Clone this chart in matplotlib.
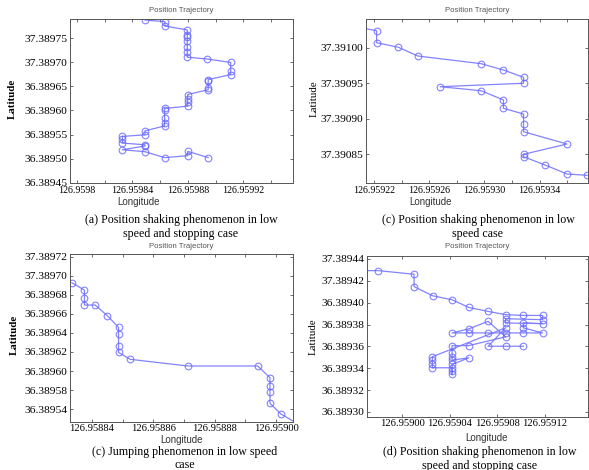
import matplotlib
matplotlib.use("Agg")
import matplotlib.pyplot as plt

W, H = 589, 470

# ---------------- data ----------------
# (a) position shaking, low speed and stopping
a_lon = [126.9598490, 126.9598634, 126.9598634, 126.9598795, 126.9598795, 126.9598795,
         126.9598795, 126.9598795, 126.9598795, 126.9598795, 126.9598939, 126.9599108,
         126.9599108, 126.9599108, 126.9598946, 126.9598946, 126.9598946, 126.9598946,
         126.9598798, 126.9598798, 126.9598798, 126.9598798, 126.9598632, 126.9598632,
         126.9598632, 126.9598632, 126.9598632, 126.9598490, 126.9598490, 126.9598327,
         126.9598327, 126.9598327, 126.9598490, 126.9598490, 126.9598327, 126.9598490,
         126.9598632, 126.9598798, 126.9598798, 126.9598946]
a_lat = [36.3897875, 36.3897840, 36.3897750, 36.3897670, 36.3897565, 36.3897520,
         36.3897430, 36.3897325, 36.3897220, 36.3897105, 36.3897066, 36.3896996,
         36.3896825, 36.3896743, 36.3896640, 36.3896620, 36.3896470, 36.3896430,
         36.3896330, 36.3896240, 36.3896170, 36.3896090, 36.3896040, 36.3896010,
         36.3895852, 36.3895749, 36.3895679, 36.3895576, 36.3895494, 36.3895461,
         36.3895405, 36.3895323, 36.3895288, 36.3895261, 36.3895185, 36.3895144,
         36.3895021, 36.3895062, 36.3895152, 36.3895021]
a_xticks = [126.95980, 126.95982, 126.95984, 126.95986, 126.95988, 126.95990, 126.95992, 126.95994]
a_xticklabels = ['126.9598', '', '126.95984', '', '126.95988', '', '126.95992', '']
a_yticks = [36.38945, 36.38950, 36.38955, 36.38960, 36.38965, 36.38970, 36.38975]
a_yticklabels = ['36.38945', '36.38950', '36.38955', '36.38960', '36.38965', '37.38970', '37.38975']

# (c) position shaking, low speed
b_lon = [126.9592096, 126.9592217, 126.9592217, 126.9592375, 126.9592516, 126.9592976,
         126.9593138, 126.9593284, 126.9593284, 126.9592678, 126.9592976, 126.9593138,
         126.9593138, 126.9593284, 126.9593284, 126.9593284, 126.9593599, 126.9593284,
         126.9593284, 126.9593441, 126.9593599, 126.9593745]
b_lat = [37.3910285, 37.3910240, 37.3910071, 37.3910007, 37.3909884, 37.3909776,
         37.3909687, 37.3909584, 37.3909500, 37.3909452, 37.3909395, 37.3909265,
         37.3909148, 37.3909067, 37.3908922, 37.3908818, 37.3908645, 37.3908500,
         37.3908466, 37.3908349, 37.3908223, 37.3908204]
b_xticks = [126.95922, 126.95924, 126.95926, 126.95928, 126.95930, 126.95932, 126.95934, 126.95936]
b_xticklabels = ['126.95922', '', '126.95926', '', '126.95930', '', '126.95934', '']
b_yticks = [37.39085, 37.39090, 37.39095, 37.39100]
b_yticklabels = ['37.39085', '37.39090', '37.39095', '37.39100']

# (c) jumping, low speed
c_lon = [126.9588335, 126.9588376, 126.9588376, 126.9588376, 126.9588411, 126.9588451,
         126.9588487, 126.9588487, 126.9588487, 126.9588487, 126.9588525, 126.9588712,
         126.9588940, 126.9588980, 126.9588980, 126.9588980, 126.9588980, 126.9589016,
         126.9589090]
c_lat = [36.3896927, 36.3896850, 36.3896770, 36.3896693, 36.3896693, 36.3896580,
         36.3896459, 36.3896389, 36.3896263, 36.3896196, 36.3896123, 36.3896053,
         36.3896053, 36.3895930, 36.3895846, 36.3895776, 36.3895661, 36.3895548,
         36.3895410]
c_xticks = [126.95884, 126.95885, 126.95886, 126.95887, 126.95888, 126.95889, 126.95890]
c_xticklabels = ['126.95884', '', '126.95886', '', '126.95888', '', '126.95900']
c_yticks = [36.38956, 36.38958, 36.38960, 36.38962, 36.38964, 36.38966, 36.38968, 36.38970, 36.38972]
c_yticklabels = ['36.38954', '36.38958', '36.38960', '36.38962', '36.38964', '36.38966',
                 '36.38968', '37.38970', '37.38972']

# (d) position shaking, low speed and stopping
d_lon = [126.9589637, 126.9589799, 126.9590099, 126.9590099, 126.9590255, 126.9590421,
         126.9590560, 126.9590722, 126.9590869, 126.9591019, 126.9591181, 126.9591181,
         126.9590869, 126.9590869, 126.9591181, 126.9591019, 126.9591019, 126.9591181,
         126.9591019, 126.9590869, 126.9590722, 126.9590560, 126.9590419, 126.9590560,
         126.9590722, 126.9590869, 126.9590560, 126.9590419, 126.9590419, 126.9590419,
         126.9590419, 126.9590560, 126.9590419, 126.9590419, 126.9590419, 126.9590419,
         126.9590253, 126.9590253, 126.9590253, 126.9590253, 126.9590869, 126.9590722,
         126.9590869, 126.9591019]
d_lat = [36.3894293, 36.3894293, 36.3894260, 36.3894147, 36.3894063, 36.3894026,
         36.3893956, 36.3893920, 36.3893890, 36.3893883, 36.3893883, 36.3893844,
         36.3893853, 36.3893814, 36.3893808, 36.3893814, 36.3893769, 36.3893723,
         36.3893723, 36.3893723, 36.3893723, 36.3893723, 36.3893723, 36.3893760,
         36.3893829, 36.3893687, 36.3893607, 36.3893607, 36.3893541, 36.3893505,
         36.3893474, 36.3893495, 36.3893434, 36.3893373, 36.3893343, 36.3893404,
         36.3893404, 36.3893434, 36.3893474, 36.3893505, 36.3893769, 36.3893601,
         36.3893601, 36.3893601]
d_xticks = [126.95900, 126.95904, 126.95908, 126.95912]
d_xticklabels = ['126.95900', '126.95904', '126.95908', '126.95912']
d_yticks = [36.38930, 36.38932, 36.38934, 36.38936, 36.38938, 36.38940, 36.38942, 36.38944]
d_yticklabels = ['36.38930', '36.38932', '36.38934', '36.38936', '36.38938', '36.38940',
                 '37.38942', '37.38944']

captions = [
    ("(a) Position shaking phenomenon in low", "speed and stopping case"),
    ("(c) Position shaking phenomenon in low", "speed case"),
    ("(c) Jumping phenomenon in low speed", "case"),
    ("(d) Position shaking phenomenon in low", "speed and stopping case"),
]

# ---------------- drawing ----------------
fig = plt.figure(figsize=(W / 100, H / 100), dpi=100)
fig.patch.set_facecolor('white')

SERIF = 'Liberation Serif'
SANS = 'Liberation Sans'
LINE = '#6464ff'


def rect(l, r, t, b):
    return [l / W, 1 - b / H, (r - l) / W, (b - t) / H]


def ftxt(x, y, s, **kw):
    fig.text(x / W, 1 - y / H, s, **kw)


panels = [
    dict(lon=a_lon, lat=a_lat, xt=a_xticks, xtl=a_xticklabels, yt=a_yticks, ytl=a_yticklabels,
         box=(70, 293, 19, 183), xlim=(126.9597950, 126.9599557), ylim=(36.3894495, 36.3897896),
         title=(181, 10), xlab=(138, 202), ylab=(12, 99, 'bold'), cap=(181, 220, 234), xfs=7.2),
    dict(lon=b_lon, lat=b_lat, xt=b_xticks, xtl=b_xticklabels, yt=b_yticks, ytl=b_yticklabels,
         box=(366, 588.3, 19, 183), xlim=(126.9592140, 126.9593754), ylim=(37.3908096, 37.3910405),
         title=(477, 10), xlab=(430, 202), ylab=(314, 99, 'normal'), cap=(478, 220, 234), xfs=7.2),
    dict(lon=c_lon, lat=c_lat, xt=c_xticks, xtl=c_xticklabels, yt=c_yticks, ytl=c_yticklabels,
         box=(70, 292.7, 254, 421.7), xlim=(126.9588329, 126.9589054), ylim=(36.3895468, 36.3897229),
         title=(181, 246.5), xlab=(182, 440), ylab=(14, 335, 'bold'), cap=(185, 451.5, 464.5), xfs=7.6),
    dict(lon=d_lon, lat=d_lat, xt=d_xticks, xtl=d_xticklabels, yt=d_yticks, ytl=d_yticklabels,
         box=(367, 588, 256, 416.5), xlim=(126.9589703, 126.9591563), ylim=(36.3892958, 36.3894427),
         title=(477, 246), xlab=(486, 438), ylab=(313, 337, 'normal'), cap=(480, 452.5, 465.5), xfs=7.6),
]

for i, p in enumerate(panels):
    l, r, t, b = p['box']
    ax = fig.add_axes(rect(l, r, t, b))
    ax.plot(p['lon'], p['lat'], '-o', color=LINE, lw=0.9, alpha=0.8,
            ms=4.8, mfc='none', mec=LINE, mew=0.8)
    ax.set_xlim(*p['xlim'])
    ax.set_ylim(*p['ylim'])
    ax.set_xticks(p['xt'])
    ax.set_xticklabels(p['xtl'], fontfamily=SERIF, fontsize=p['xfs'])
    ax.set_yticks(p['yt'])
    ax.set_yticklabels(p['ytl'], fontfamily=SERIF, fontsize=8.2)
    ax.tick_params(direction='in', top=True, right=True, length=2.5, width=0.6,
                   color='#555555', labelcolor='black', pad=2)
    for s in ax.spines.values():
        s.set_color('#555555')
        s.set_linewidth(0.7)
    tx, ty = p['title']
    ftxt(tx, ty, 'Position Trajectory', fontfamily=SANS, fontsize=5.6, color='#555555',
         ha='center', va='center')
    lx, ly = p['xlab']
    ftxt(lx, ly, 'Longitude', fontfamily=SANS, fontsize=7, color='#333333',
         ha='center', va='center')
    yx, yy, wt = p['ylab']
    ftxt(yx, yy, 'Latitude', fontfamily=SERIF, fontsize=7.8, fontweight=wt, color='black',
         rotation=90, ha='center', va='center')
    cx, c1, c2 = p['cap']
    ftxt(cx, c1, captions[i][0], fontfamily=SERIF, fontsize=8.6, ha='center', va='center')
    ftxt(cx, c2, captions[i][1], fontfamily=SERIF, fontsize=8.6, ha='center', va='center')

fig.savefig('out.png', dpi=100)
